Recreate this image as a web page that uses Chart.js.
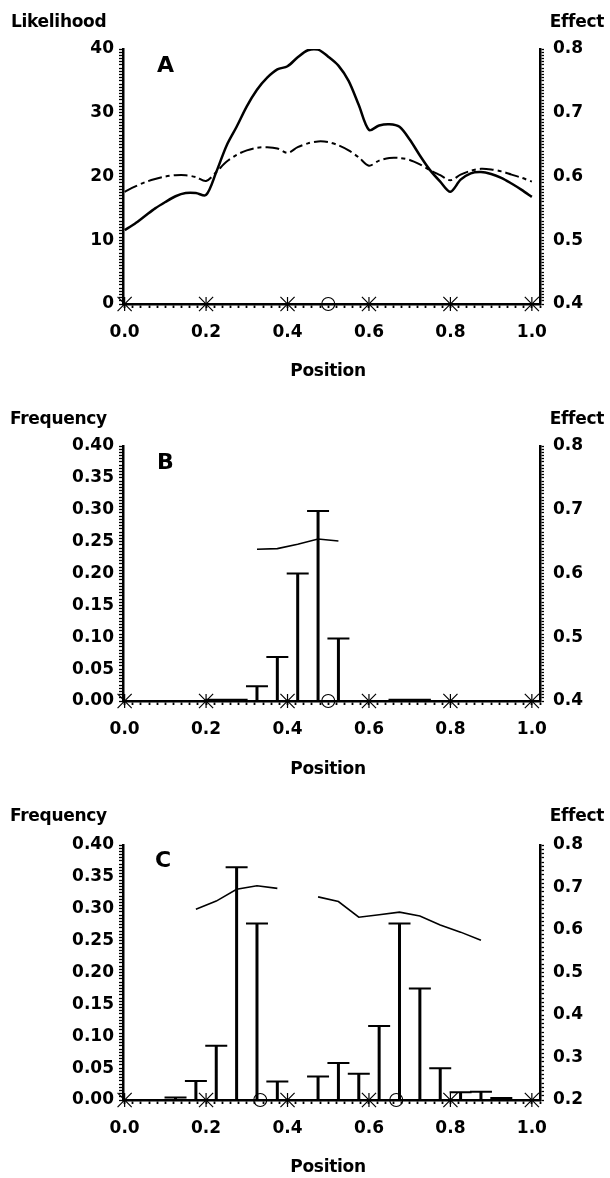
<!DOCTYPE html>
<html>
<head>
<meta charset="utf-8">
<script src="https://cdn.jsdelivr.net/npm/chart.js@4.4.1/dist/chart.umd.min.js"></script>
<style>
  html, body { margin: 0; padding: 0; background: #fff; }
  #wrap { position: relative; width: 610px; height: 1178px; background: #fff; overflow: hidden; }
  canvas { position: absolute; left: 0; }
  .lbl { position: absolute; font-family: 'DejaVu Sans', sans-serif; font-weight: bold; font-size: 17px; color: #000; white-space: nowrap; line-height: 1; letter-spacing: -0.3px; }
  .let { position: absolute; font-family: 'DejaVu Sans', sans-serif; font-weight: bold; font-size: 22px; color: #000; line-height: 1; }
</style>
</head>
<body>
<div id="wrap">
  <canvas id="cA" width="610" height="395" style="top:0px"></canvas>
  <canvas id="cB" width="610" height="395" style="top:397px"></canvas>
  <canvas id="cC" width="610" height="395" style="top:796px"></canvas>

  <div class="lbl" style="left:11px; top:13px;">Likelihood</div>
  <div class="lbl" style="right:6px; top:13px;">Effect</div>
  <div class="let" style="left:157px; top:54px;">A</div>
  <div class="lbl" style="left:0; width:656px; text-align:center; top:362px;">Position</div>

  <div class="lbl" style="left:10px; top:410px;">Frequency</div>
  <div class="lbl" style="right:6px; top:410px;">Effect</div>
  <div class="let" style="left:157px; top:451px;">B</div>
  <div class="lbl" style="left:0; width:656px; text-align:center; top:760px;">Position</div>

  <div class="lbl" style="left:10px; top:807px;">Frequency</div>
  <div class="lbl" style="right:6px; top:807px;">Effect</div>
  <div class="let" style="left:155px; top:849px;">C</div>
  <div class="lbl" style="left:0; width:656px; text-align:center; top:1158px;">Position</div>
</div>
<script>
// ---------------- data ----------------
const positionsA = [0.00,0.025,0.05,0.075,0.10,0.125,0.15,0.175,0.20,0.225,0.25,0.275,0.30,0.325,0.35,0.375,0.40,
  0.425,0.45,0.475,0.50,0.525,0.55,0.575,0.60,0.625,0.65,0.675,0.70,0.725,0.75,0.775,0.80,0.825,0.85,0.875,0.90,0.925,0.95,0.975,1.00];
const likelihoodA = [11.6,12.6,13.8,15.0,16.0,16.9,17.4,17.4,17.1,20.7,24.8,27.8,31.0,33.6,35.5,36.8,37.3,
  38.7,39.8,39.9,38.8,37.4,35.0,31.2,27.3,28.0,28.2,27.8,25.8,23.3,21.0,19.2,17.6,19.5,20.5,20.7,20.4,19.8,18.9,17.9,16.8];
const effectA = [0.576,0.584,0.591,0.596,0.600,0.602,0.602,0.599,0.593,0.607,0.623,0.634,0.641,0.645,0.646,0.644,0.637,
  0.646,0.652,0.655,0.654,0.649,0.641,0.630,0.617,0.625,0.629,0.629,0.626,0.619,0.610,0.602,0.594,0.603,0.609,0.612,0.611,0.608,0.603,0.598,0.592];

const bins = [0.025,0.075,0.125,0.175,0.225,0.275,0.325,0.375,0.425,0.475,0.525,0.575,0.625,0.675,0.725,0.775,0.825,0.875,0.925,0.975];
const freqB = [0,0,0,0,0.002,0.002,0.023,0.069,0.200,0.298,0.098,0,0,0.002,0.002,0,0,0,0,0];
const effectB = [null,null,null,null,null,null,0.638,0.639,0.646,0.654,0.651,null,null,null,null,null,null,null,null,null];
const freqC = [0,0,0.004,0.030,0.085,0.365,0.277,0.029,0,0.037,0.058,0.041,0.116,0.277,0.175,0.050,0.012,0.013,0.003,0];
const effectC = [null,null,null,0.649,0.668,0.696,0.704,0.698,null,0.678,0.667,0.630,0.636,0.642,0.633,0.612,0.595,0.576,null,null];

const markerPositions = [0.0,0.2,0.4,0.6,0.8,1.0];
const circlesA = [0.5];
const circlesB = [0.5];
const circlesC = [0.333,0.667];

const xTickLabels = [0.0,0.2,0.4,0.6,0.8,1.0];
const likelihoodTicks = [0,10,20,30,40];
const freqTicks = [0,0.05,0.10,0.15,0.20,0.25,0.30,0.35,0.40];
const effectTicksAB = [0.4,0.5,0.6,0.7,0.8];
const effectTicksC = [0.2,0.3,0.4,0.5,0.6,0.7,0.8];

// ---------------- helpers ----------------
const FONT = { family: "'DejaVu Sans', sans-serif", weight: 'bold', size: 17 };
const CAP_HALF = 0.027;

function isMajor(v, majors) { return majors.some(m => Math.abs(m - v) < 1e-6); }

function yAxis(position, min, max, majors, minorStep, fmt, width, pad) {
  return {
    type: 'linear', position, min, max,
    afterBuildTicks: s => {
      const t = []; const n = Math.round((max - min) / minorStep);
      for (let i = 0; i <= n; i++) t.push({ value: +(min + i * minorStep).toFixed(6) });
      s.ticks = t;
    },
    ticks: { autoSkip: false, color: '#000', font: FONT, padding: pad,
      callback: v => isMajor(v, majors) ? fmt(v) : '' },
    grid: { drawOnChartArea: false, drawTicks: true, tickLength: 4, tickWidth: 1.3, tickColor: '#000' },
    border: { display: true, color: '#000', width: 2.5 },
    afterFit: s => { s.width = width; }
  };
}

function xAxis() {
  return {
    type: 'linear', position: 'bottom', min: -0.004, max: 1.02,
    afterBuildTicks: s => {
      const t = [];
      for (let i = 0; i <= 51; i++) t.push({ value: +(i * 0.02).toFixed(6) });
      s.ticks = t;
    },
    ticks: { autoSkip: false, maxRotation: 0, minRotation: 0, color: '#000', font: FONT, padding: 14,
      callback: v => isMajor(v, xTickLabels) ? v.toFixed(1) : '' },
    grid: { drawOnChartArea: false, drawTicks: true, tickLength: 4, tickWidth: 1.8, tickColor: '#000' },
    border: { display: true, color: '#000', width: 2.5 },
    afterFit: s => { s.height = 395 - 304; }
  };
}

function markerSets(circles) {
  const pts = markerPositions.map(x => ({ x, y: 0 }));
  return [
    { data: pts, yAxisID: 'yL', showLine: false,
      pointStyle: 'crossRot', pointRadius: 10, borderColor: '#000', borderWidth: 1.2, backgroundColor: 'rgba(0,0,0,0)', clip: false },
    { data: pts, yAxisID: 'yL', showLine: false,
      pointStyle: 'line', rotation: 90, pointRadius: 7, borderColor: '#000', borderWidth: 1.2, backgroundColor: 'rgba(0,0,0,0)', clip: false },
    { data: circles.map(x => ({ x, y: 0 })), yAxisID: 'yL', showLine: false,
      pointStyle: 'circle', pointRadius: 6.5, borderColor: '#000', borderWidth: 1.1, backgroundColor: 'rgba(0,0,0,0)', clip: false }
  ];
}

function barSets(freq) {
  const stems = [], caps = [];
  bins.forEach((b, i) => {
    const f = freq[i];
    if (!f) return;
    stems.push({ x: b, y: 0 }, { x: b, y: f }, { x: b, y: null });
    caps.push({ x: b - CAP_HALF, y: f }, { x: b + CAP_HALF, y: f }, { x: b + CAP_HALF, y: null });
  });
  return [
    { data: stems, yAxisID: 'yL', showLine: true, spanGaps: false, borderColor: '#000', borderWidth: 3, pointRadius: 0, borderCapStyle: 'butt' },
    { data: caps, yAxisID: 'yL', showLine: true, spanGaps: false, borderColor: '#000', borderWidth: 2, pointRadius: 0, borderCapStyle: 'butt' }
  ];
}

function effectSet(vals) {
  return { data: bins.map((b, i) => ({ x: b, y: vals[i] })), yAxisID: 'yR', showLine: true, spanGaps: false,
    borderColor: '#000', borderWidth: 1.6, pointRadius: 0, tension: 0 };
}

function makeChart(id, datasets, yL, yR) {
  return new Chart(document.getElementById(id), {
    type: 'scatter',
    data: { datasets },
    options: {
      responsive: false, animation: false, devicePixelRatio: 1, events: [],
      layout: { padding: { top: 49, bottom: 0, left: 0, right: 0 } },
      plugins: { legend: { display: false }, tooltip: { enabled: false } },
      elements: { line: { tension: 0 } },
      scales: { x: xAxis(), yL, yR }
    }
  });
}

// ---------------- Panel A ----------------
makeChart('cA', [
  { data: positionsA.map((p, i) => ({ x: p, y: likelihoodA[i] })), yAxisID: 'yL', showLine: true,
    borderColor: '#000', borderWidth: 2.5, pointRadius: 0, tension: 0.3 },
  { data: positionsA.map((p, i) => ({ x: p, y: effectA[i] })), yAxisID: 'yR', showLine: true,
    borderColor: '#000', borderWidth: 2, borderDash: [14, 4, 4, 4], pointRadius: 0, tension: 0.3 },
  ...markerSets(circlesA)
],
  yAxis('left', 0, 40, likelihoodTicks, 0.5, v => String(Math.round(v)), 123, 5),
  yAxis('right', 0.4, 0.8, effectTicksAB, 0.005, v => v.toFixed(1), 70, 9)
);

// ---------------- Panel B ----------------
makeChart('cB', [
  ...barSets(freqB),
  effectSet(effectB),
  ...markerSets(circlesB)
],
  yAxis('left', 0, 0.4, freqTicks, 0.005, v => v.toFixed(2), 123, 5),
  yAxis('right', 0.4, 0.8, effectTicksAB, 0.005, v => v.toFixed(1), 70, 9)
);

// ---------------- Panel C ----------------
makeChart('cC', [
  ...barSets(freqC),
  effectSet(effectC),
  ...markerSets(circlesC)
],
  yAxis('left', 0, 0.4, freqTicks, 0.005, v => v.toFixed(2), 123, 5),
  yAxis('right', 0.2, 0.8, effectTicksC, 0.01, v => v.toFixed(1), 70, 9)
);
</script>
</body>
</html>
